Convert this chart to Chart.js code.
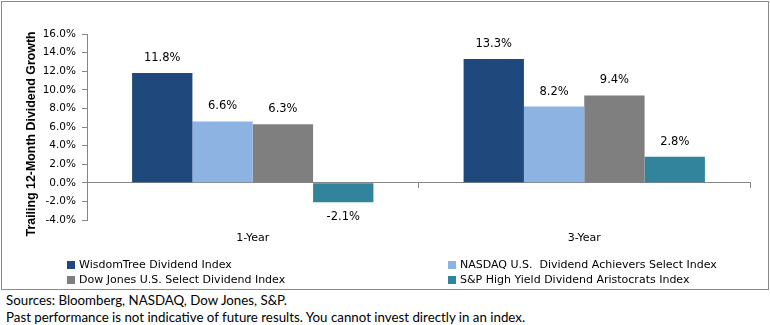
<!DOCTYPE html>
<html>
<head>
<meta charset="utf-8">
<script src="https://cdn.jsdelivr.net/npm/chart.js@4"></script>
<style>
  body { margin: 0; background: #fff; width: 770px; height: 325px; position: relative; overflow: hidden; }
  #box { position: absolute; left: 1px; top: 1px; width: 766px; height: 287px; border: 1px solid #8a8a8a; }
  #chart { position: absolute; left: 0; top: 0; }
  .legend-item { position: absolute; font: 11px "DejaVu Sans", sans-serif; color: #000; line-height: 14px; white-space: pre; }
  .legend-item span { display: inline-block; width: 8px; height: 8px; margin-right: 4px; vertical-align: -1px; }
  .note { position: absolute; left: 6px; font: 13.3px Lato, sans-serif; color: #000; white-space: nowrap; }
</style>
</head>
<body>
<div id="box">
  <canvas id="chart" width="766" height="287"></canvas>
</div>
<div id="legend"></div>
<div class="note" style="top:292px">Sources: Bloomberg, NASDAQ, Dow Jones, S&amp;P.</div>
<div class="note" style="top:309px">Past performance is not indicative of future results. You cannot invest directly in an index.</div>
<script>
const categories = ["1-Year", "3-Year"];
const seriesNames = [
  "WisdomTree Dividend Index",
  "NASDAQ U.S.  Dividend Achievers Select Index",
  "Dow Jones U.S. Select Dividend Index",
  "S&P High Yield Dividend Aristocrats Index"
];
const wisdomTree = [11.8, 13.3];
const nasdaqAchievers = [6.6, 8.2];
const dowJonesSelect = [6.3, 9.4];
const spAristocrats = [-2.1, 2.8];
const seriesColors = ["#1F497D", "#8DB3E2", "#7F7F7F", "#31849B"];
const yMin = -4;
const yMax = 16;
const yStep = 2;

const seriesValues = [wisdomTree, nasdaqAchievers, dowJonesSelect, spAristocrats];
const axisGrey = "#868686";

// value labels above (or below) each bar
const valueLabels = {
  id: "valueLabels",
  afterDatasetsDraw(chart) {
    const ctx = chart.ctx;
    ctx.save();
    ctx.font = '11.5px "DejaVu Sans"';
    ctx.fillStyle = "#000";
    ctx.textAlign = "center";
    ctx.textBaseline = "middle";
    chart.data.datasets.forEach((ds, i) => {
      chart.getDatasetMeta(i).data.forEach((bar, j) => {
        const v = ds.data[j];
        const y = v >= 0 ? bar.y - 15 : bar.y + 15;
        ctx.fillText(v.toFixed(1) + "%", bar.x, y);
      });
    });
    ctx.restore();
  },
};

new Chart(document.getElementById("chart"), {
  type: "bar",
  data: {
    labels: categories,
    datasets: seriesNames.map((name, i) => ({
      label: name,
      data: seriesValues[i],
      backgroundColor: seriesColors[i],
      borderWidth: 0,
      categoryPercentage: 0.728,
      barPercentage: 1,
    })),
  },
  options: {
    responsive: false,
    animation: false,
    devicePixelRatio: 1,
    layout: { padding: { left: 18, top: 32, right: 18, bottom: 69 } },
    plugins: {
      legend: { display: false },
      tooltip: { enabled: false },
    },
    scales: {
      x: {
        position: { y: 0 },
        grid: { offset: true, drawOnChartArea: false, tickLength: 5, color: axisGrey },
        border: { color: axisGrey },
        ticks: { padding: 44, color: "#000", font: { family: "DejaVu Sans", size: 11 } },
      },
      y: {
        min: yMin,
        max: yMax,
        afterFit: (scale) => { scale.width = 67; },
        grid: { drawOnChartArea: false, tickLength: 5, color: axisGrey },
        border: { color: axisGrey },
        ticks: {
          stepSize: yStep,
          padding: 6,
          color: "#000",
          font: { family: "DejaVu Sans", size: 10.5 },
          callback: (value) => value.toFixed(1) + "%",
        },
        title: {
          display: true,
          // trailing spaces nudge the rotated title down a little, as in the original
          text: "Trailing 12-Month Dividend Growth    ",
          color: "#000",
          font: { family: "Liberation Sans", size: 12.4, weight: "bold" },
        },
      },
    },
  },
  plugins: [valueLabels],
});

// legend in two columns, like the original
const legendEl = document.getElementById("legend");
const legendPos = [[67, 258], [448, 258], [67, 273], [448, 273]];
seriesNames.forEach((name, i) => {
  const item = document.createElement("div");
  item.className = "legend-item";
  item.style.left = legendPos[i][0] + "px";
  item.style.top = legendPos[i][1] + "px";
  const sw = document.createElement("span");
  sw.style.background = seriesColors[i];
  item.appendChild(sw);
  item.appendChild(document.createTextNode(name));
  legendEl.appendChild(item);
});
</script>
</body>
</html>
